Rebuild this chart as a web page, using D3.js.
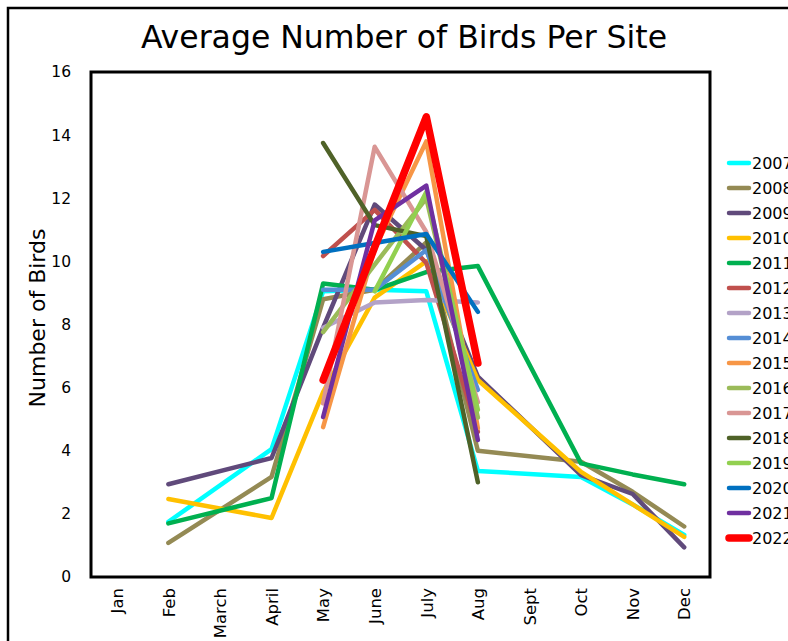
<!DOCTYPE html>
<html>
<head>
<meta charset="utf-8">
<script src="https://cdn.jsdelivr.net/npm/d3@7"></script>
<style>
  html, body { margin: 0; padding: 0; background: #fff; }
  svg { display: block; }
  text { font-family: Verdana, "DejaVu Sans", sans-serif; fill: #000; }
</style>
</head>
<body>
<svg id="chart" width="788" height="641"></svg>
<script>
// Month categories on the x axis
const months = ["Jan", "Feb", "March", "April", "May", "June", "July", "Aug", "Sept", "Oct", "Nov", "Dec"];
const yTicks = [0, 2, 4, 6, 8, 10, 12, 14, 16];

// Survey years and their line colours
const years = ["2007", "2008", "2009", "2010", "2011", "2012", "2013", "2014",
               "2015", "2016", "2017", "2018", "2019", "2020", "2021", "2022"];
const colors = ["#00FFFF", "#948A54", "#604A7B", "#FFC000", "#00B050", "#C0504D", "#B3A2C7", "#558ED5",
                "#F79646", "#9BBB59", "#D99694", "#4F6228", "#92D050", "#0070C0", "#7030A0", "#FF0000"];

// Average birds per site, one value per month (null = not surveyed)
const v2007 = [null, 1.75, null, 4.05, 9.05, 9.1, 9.05, 3.36, null, 3.17, 2.3, 1.33];
const v2008 = [null, 1.08, null, 3.17, 8.8, 9.1, 10.6, 4.0, null, 3.65, 2.7, 1.6];
const v2009 = [null, 2.94, null, 3.77, 7.9, 11.8, 10.36, 6.35, null, 3.23, 2.63, 0.94];
const v2010 = [null, 2.47, null, 1.87, 5.86, 8.85, 10.0, 6.24, null, 3.33, 2.3, 1.27];
const v2011 = [null, 1.7, null, 2.5, 9.3, 9.1, 9.66, 9.85, null, 3.6, 3.25, 2.94];
const v2012 = [null, null, null, null, 10.17, 11.63, 9.95, 4.6, null, null, null, null];
const v2013 = [null, null, null, null, 7.9, 8.7, 8.78, 8.7, null, null, null, null];
const v2014 = [null, null, null, null, 9.1, 9.1, 10.36, 5.93, null, null, null, null];
const v2015 = [null, null, null, null, 4.75, 10.4, 13.8, 4.72, null, null, null, null];
const v2016 = [null, null, null, null, 7.76, 9.9, 12.0, 5.05, null, null, null, null];
const v2017 = [null, null, null, null, 5.5, 13.63, 10.93, 5.54, null, null, null, null];
const v2018 = [null, null, null, null, 13.75, 11.15, 10.8, 3.0, null, null, null, null];
const v2019 = [null, null, null, null, null, 9.05, 12.2, 5.3, null, null, null, null];
const v2020 = [null, null, null, null, 10.3, 10.58, 10.87, 8.4, null, null, null, null];
const v2021 = [null, null, null, null, 5.07, 11.3, 12.4, 4.34, null, null, null, null];
const v2022 = [null, null, null, null, 6.24, 10.45, 14.58, 6.78, null, null, null, null];

const seriesValues = [v2007, v2008, v2009, v2010, v2011, v2012, v2013, v2014,
                      v2015, v2016, v2017, v2018, v2019, v2020, v2021, v2022];

const series = years.map((yr, i) => ({
  year: yr,
  color: colors[i],
  width: yr === "2022" ? 7.5 : 4.5,
  points: months.map((m, j) => ({ month: m, value: seriesValues[i][j] }))
                .filter(d => d.value !== null)
}));

const svg = d3.select("#chart");

// Outer chart border (runs past the right and bottom edges)
svg.append("rect")
  .attr("x", 8).attr("y", 8)
  .attr("width", 800).attr("height", 660)
  .attr("fill", "#fff")
  .attr("stroke", "#000").attr("stroke-width", 2.5);

const plot = { left: 91, right: 710, top: 72, bottom: 577 };

const x = d3.scalePoint().domain(months).range([plot.left, plot.right]).padding(0.5);
const y = d3.scaleLinear().domain([0, 16]).range([plot.bottom, plot.top]);

// Title
svg.append("text")
  .attr("x", 404).attr("y", 48)
  .attr("text-anchor", "middle")
  .style("font-size", "31.5px")
  .text("Average Number of Birds Per Site");

// Y axis title
svg.append("text")
  .attr("transform", "translate(45,318) rotate(-90)")
  .attr("text-anchor", "middle")
  .style("font-size", "22px")
  .text("Number of Birds");

// Y axis tick labels
const yAxis = d3.axisLeft(y).tickValues(yTicks).tickSize(0).tickPadding(0);
svg.append("g")
  .attr("transform", "translate(71,0)")
  .call(yAxis)
  .call(g => g.select(".domain").remove())
  .call(g => g.selectAll("text")
    .style("font-family", "Verdana, 'DejaVu Sans', sans-serif")
    .style("font-size", "15.5px")
    .attr("fill", "#000"));

// X axis month labels, rotated
const xAxis = d3.axisBottom(x).tickSize(0).tickPadding(0);
svg.append("g")
  .attr("transform", `translate(0,${plot.bottom})`)
  .call(xAxis)
  .call(g => g.select(".domain").remove())
  .call(g => g.selectAll("text")
    .style("font-family", "Verdana, 'DejaVu Sans', sans-serif")
    .style("font-size", "16.5px")
    .attr("fill", "#000")
    .attr("text-anchor", "end")
    .attr("dy", "0.35em")
    .attr("transform", "translate(0,11) rotate(-90)"));

// Lines
const line = d3.line()
  .x(d => x(d.month))
  .y(d => y(d.value));

svg.append("g")
  .selectAll("path")
  .data(series)
  .join("path")
  .attr("d", d => line(d.points))
  .attr("fill", "none")
  .attr("stroke", d => d.color)
  .attr("stroke-width", d => d.width)
  .attr("stroke-linecap", "round")
  .attr("stroke-linejoin", "round");

// Plot frame
svg.append("rect")
  .attr("x", plot.left).attr("y", plot.top)
  .attr("width", plot.right - plot.left).attr("height", plot.bottom - plot.top)
  .attr("fill", "none")
  .attr("stroke", "#000").attr("stroke-width", 3);

// Legend (runs off the right edge of the chart area)
const legend = svg.append("g").attr("transform", "translate(727,163)");
const rows = legend.selectAll("g")
  .data(series)
  .join("g")
  .attr("transform", (d, i) => `translate(0,${i * 25})`);
rows.append("line")
  .attr("x1", 2).attr("x2", 22)
  .attr("y1", 0).attr("y2", 0)
  .attr("stroke", d => d.color)
  .attr("stroke-width", d => d.width)
  .attr("stroke-linecap", "round");
rows.append("text")
  .attr("x", 25).attr("y", 0)
  .attr("dy", "0.36em")
  .style("font-size", "16px")
  .text(d => d.year);
</script>
</body>
</html>
